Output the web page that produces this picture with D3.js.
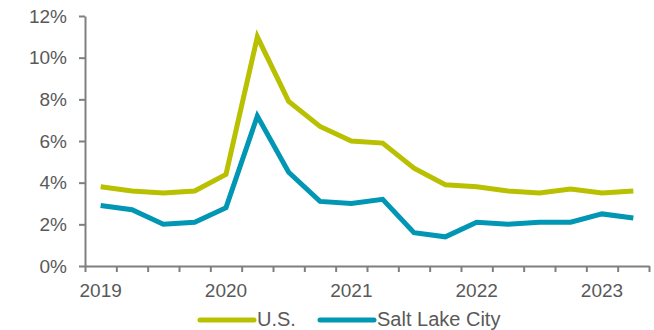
<!DOCTYPE html>
<meta charset="utf-8">
<style>
  body { margin: 0; background: #fff; }
  svg text { font-family: "Liberation Sans", Arial, sans-serif; fill: #595959; }
</style>
<svg width="654" height="330"></svg>
<script src="https://cdn.jsdelivr.net/npm/d3@7"></script>
<script>

var quarters = ["2019Q1","2019Q2","2019Q3","2019Q4","2020Q1","2020Q2","2020Q3","2020Q4",
                "2021Q1","2021Q2","2021Q3","2021Q4","2022Q1","2022Q2","2022Q3","2022Q4",
                "2023Q1","2023Q2"];
var usValues  = [3.8, 3.6, 3.5, 3.6, 4.4, 11.0, 7.9, 6.7, 6.0, 5.9, 4.7, 3.9, 3.8, 3.6, 3.5, 3.7, 3.5, 3.6];
var slcValues = [2.9, 2.7, 2.0, 2.1, 2.8, 7.2, 4.5, 3.1, 3.0, 3.2, 1.6, 1.4, 2.1, 2.0, 2.1, 2.1, 2.5, 2.3];
var yearLabels = {"2019Q1":"2019","2020Q1":"2020","2021Q1":"2021","2022Q1":"2022","2023Q1":"2023"};
var yTicks = [0, 2, 4, 6, 8, 10, 12];

var series = [
  {name: "U.S.", values: usValues, color: "#b8c000"},
  {name: "Salt Lake City", values: slcValues, color: "#0096b4"}
];

var svg = d3.select("svg");
var plotLeft = 85, plotRight = 649, plotTop = 16, plotBottom = 266;

var x = d3.scaleBand().domain(quarters).range([plotLeft, plotRight]);
var xEdge = d3.scaleLinear().domain([0, quarters.length]).range([plotLeft, plotRight]);
var y = d3.scaleLinear().domain([0, 12]).range([plotBottom, plotTop]);

// y axis
var yAxis = svg.append("g")
    .attr("transform", "translate(" + plotLeft + ",0)")
    .call(d3.axisLeft(y).tickValues(yTicks).tickFormat(function(d) { return d + "%"; })
      .tickSize(6).tickSizeOuter(0).tickPadding(12));
yAxis.selectAll("text").style("font-size", "19px");

// x axis: ticks at quarter boundaries
var xAxis = svg.append("g")
    .attr("transform", "translate(0," + plotBottom + ")")
    .call(d3.axisBottom(xEdge).tickValues(d3.range(quarters.length + 1)).tickFormat("")
      .tickSize(6).tickSizeOuter(0));

svg.selectAll(".domain, .tick line")
    .attr("stroke", "#7f7f7f")
    .attr("stroke-width", 2);
svg.selectAll(".tick text").attr("fill", "#595959");

// year labels under first quarter of each year
svg.append("g").selectAll("text")
  .data(quarters.filter(function(q) { return yearLabels[q]; }))
  .join("text")
    .attr("x", function(q) { return x(q) + x.bandwidth() / 2; })
    .attr("y", 297)
    .attr("text-anchor", "middle")
    .style("font-size", "19px")
    .text(function(q) { return yearLabels[q]; });

var line = d3.line()
    .x(function(d, i) { return x(quarters[i]) + x.bandwidth() / 2; })
    .y(function(d) { return y(d); });

svg.append("g").selectAll("path")
  .data(series)
  .join("path")
    .attr("fill", "none")
    .attr("stroke", function(d) { return d.color; })
    .attr("stroke-width", 5)
    .attr("d", function(d) { return line(d.values); });

// legend
var legendX = [200, 320];
var legend = svg.append("g").selectAll("g")
  .data(series)
  .join("g")
    .attr("transform", function(d, i) { return "translate(" + legendX[i] + ",320)"; });
legend.append("line")
    .attr("x1", 0).attr("x2", 54)
    .attr("stroke", function(d) { return d.color; })
    .attr("stroke-width", 5)
    .attr("stroke-linecap", "round");
legend.append("text")
    .attr("x", 57)
    .attr("y", 6)
    .style("font-size", "20px")
    .text(function(d) { return d.name; });

</script>
